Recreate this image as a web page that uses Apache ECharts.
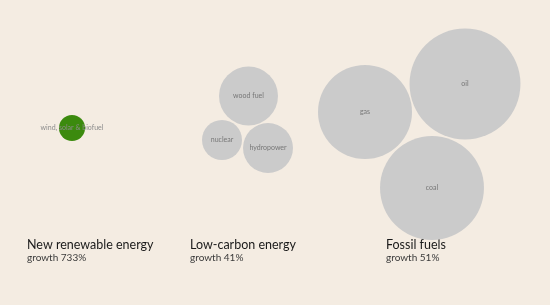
<!DOCTYPE html>
<html><head><meta charset="utf-8">
<script src="https://cdn.jsdelivr.net/npm/echarts@6/dist/echarts.min.js"></script>
<style>html,body{margin:0;padding:0;background:#f4ece2;}#c{width:550px;height:305px;}</style>
</head><body><div id="c"></div>
<script>
// Data
const names = ['wind, solar & biofuel','wood fuel','nuclear','hydropower','gas','oil','coal'];
const groups = ['new','low','low','low','fossil','fossil','fossil'];
const sizes = [6.8, 34.8, 16, 25, 88.4, 123, 108];   // relative energy volume (area)
const posX = [72, 248.5, 222, 268, 365, 465, 432];   // layout position (data units)
const posY = [128, 96, 140, 148, 112, 84, 188];
const groupTitles = ['New renewable energy','Low-carbon energy','Fossil fuels'];
const groupGrowth = ['growth 733%','growth 41%','growth 51%'];

const chart = echarts.init(document.getElementById('c'));
const data = names.map((n,i)=>({name:n, value:[posX[i], posY[i], sizes[i]],
  itemStyle:{color: groups[i]==='new' ? '#3b8a0e' : '#cbcbcb', opacity:1},
  label:{color: groups[i]==='new' ? '#8c8c8c' : '#777'}}));
const titleX = [27, 190, 386];
const graphics = [];
groupTitles.forEach((t,i)=>{
  graphics.push({type:'text', left:titleX[i], top:238, style:{text:t, font:'12.5px Lato', fill:'#1a1a1a'}});
  graphics.push({type:'text', left:titleX[i], top:253, style:{text:groupGrowth[i], font:'10px Lato', fill:'#3a3a3a'}});
});
chart.setOption({
  backgroundColor:'#f4ece2',
  animation:false,
  grid:{left:0,right:0,top:0,bottom:0},
  xAxis:{type:'value',min:0,max:550,show:false},
  yAxis:{type:'value',min:0,max:305,inverse:true,show:false},
  series:[{type:'scatter', data:data,
    symbolSize:(v)=>Math.sqrt(v[2])*10,
    itemStyle:{opacity:1},
    label:{show:true, formatter:'{b}', position:'inside', fontSize:7, color:'#777',
      fontFamily:'Lato', textBorderWidth:0, textBorderColor:'transparent'},
    labelLayout:{hideOverlap:false},
    emphasis:{disabled:true}
  }],
  graphic:graphics
});
</script></body></html>
